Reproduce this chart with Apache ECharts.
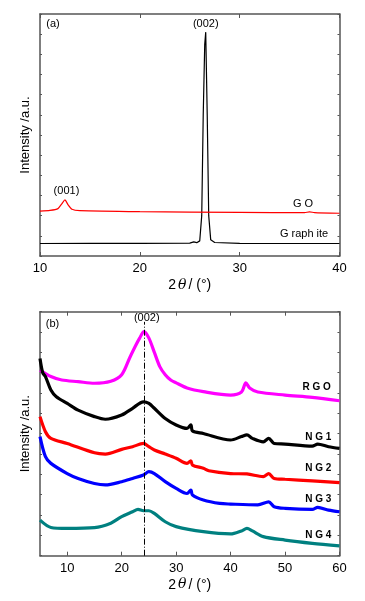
<!DOCTYPE html>
<html><head><meta charset="utf-8">
<script src="https://cdn.jsdelivr.net/npm/echarts@6/dist/echarts.min.js"></script>
<style>html,body{margin:0;padding:0;background:#fff}#c{width:365px;height:601px}</style>
</head><body><div id="c"></div>
<script>
// Panel (a)
const graphiteX = [10, 15, 20, 25, 25.4, 25.7, 26.0, 26.2, 26.35, 26.5, 26.6, 26.75, 26.9, 27.1, 27.5, 30, 35, 40];
const graphiteY = [6.2, 6.3, 6.3, 6.4, 7.0, 6.6, 7.5, 20, 70, 105, 111, 70, 20, 8, 6.7, 6.3, 6.2, 6.2];
const goX = [10, 11, 11.8, 12.2, 12.5, 12.8, 13.2, 14, 20, 30, 36.5, 37, 37.5, 40];
const goY = [22.3, 22.6, 23.5, 26, 27.8, 25.5, 23.2, 22.5, 22.0, 21.6, 21.5, 21.9, 21.5, 21.2];
// Panel (b)
const rgoX = [5, 7, 9, 12, 15, 18, 20, 21.5, 22.5, 23.3, 24.1, 25, 26, 27, 28, 29, 30, 32, 35, 40, 42, 42.8, 43.5, 45, 50, 55, 60];
const rgoY = [91.3, 88.1, 86.4, 85.6, 84.8, 85.8, 89, 97.5, 103, 107, 110.2, 107, 100, 93, 89, 86.4, 85, 82.5, 80.7, 79, 80.5, 85, 82.5, 80.5, 79, 77.9, 76.2];
const ng1X = [5, 5.5, 6, 7, 8, 10, 12, 15, 17, 20, 22, 24, 25, 26, 28, 30, 32, 32.7, 33, 35, 40, 42, 43, 44, 46, 47, 48, 50, 55, 56, 58, 60];
const ng1Y = [97, 90, 88.1, 81.5, 78.2, 74.9, 71.6, 68.4, 67.1, 69.2, 72.5, 75.7, 74.9, 72.5, 67.5, 64.3, 62.6, 64.3, 61.4, 60.1, 56.9, 58.6, 59.4, 57.7, 56, 57.7, 55.2, 54.9, 53.9, 54.9, 53.6, 52.8];
const ng2X = [5, 6, 7, 10, 15, 17, 20, 22, 24, 25, 26, 28, 30, 32, 32.7, 33, 35, 36, 40, 43, 46, 47, 48, 50, 55, 60];
const ng2Y = [68.4, 61, 57.7, 55.2, 50.6, 50, 52.3, 53.6, 55.2, 53.6, 52, 50, 47.9, 45.4, 46.7, 44.6, 43, 41.8, 40.4, 40.2, 38.9, 40.4, 38, 37.6, 36.8, 35.9];
const ng3X = [5, 6, 7, 10, 12, 15, 17, 20, 22, 24, 25, 26, 28, 30, 32, 32.7, 33, 35, 38, 40, 45, 47, 48, 50, 55, 56, 58, 60];
const ng3Y = [58.6, 48.7, 45.4, 40.4, 38, 35.5, 34.8, 36.4, 38, 39.7, 41.3, 40.4, 36.4, 33.1, 30.6, 32.3, 29.9, 27.4, 25.7, 25.4, 25, 26.5, 24.1, 23.3, 22.8, 23.8, 22.4, 21.6];
const ng4X = [5, 7, 10, 15, 18, 20, 22, 23, 24, 25, 26, 28, 30, 35, 40, 42, 43, 44, 46, 50, 55, 60];
const ng4Y = [17.5, 13.9, 13.4, 13.8, 16, 19.2, 21.6, 22.8, 22.1, 22.1, 20.8, 16.7, 14.3, 11.8, 10.7, 12.2, 13.4, 12.2, 9.4, 7.7, 6.1, 4.8];
const xTicksA = [10, 20, 30, 40];
const xTicksB = [10, 20, 30, 40, 50, 60];
const peakLineX = 24.1;

const zip = (xs, ys) => xs.map((x, i) => [x, ys[i]]);
const FONT = 'Liberation Sans, Arial, sans-serif';
const axisCol = '#555';
function xAx(grid, min, max, ticks, pos, show) {
  return { type: 'value', gridIndex: grid, min: min, max: max, position: pos,
    axisLine: { show: true, onZero: false, lineStyle: { color: axisCol, width: 1.5 } },
    axisTick: { show: true, inside: true, length: 4, customValues: ticks, lineStyle: { color: axisCol } },
    splitLine: { show: false },
    axisLabel: { show: show, customValues: ticks, color: '#000', fontSize: 13, fontFamily: FONT, margin: 6 },
    name: show ? '{a|2}{b|θ}{a|/ (°)}' : '', nameLocation: 'middle', nameGap: 22,
    nameTextStyle: { rich: { a: { fontSize: 14, fontFamily: FONT, color: '#000' }, b: { fontSize: 14, fontStyle: 'italic', fontFamily: 'DejaVu Serif, serif', color: '#000', padding: [0, 2, 0, 2] } } }
  };
}
function yAx(grid, pos, show) {
  return { type: 'value', gridIndex: grid, min: 0, max: 120, interval: 10, position: pos,
    axisLine: { show: true, onZero: false, lineStyle: { color: axisCol, width: 1.5 } },
    axisTick: { show: true, inside: true, length: 2, lineStyle: { color: axisCol } },
    splitLine: { show: false }, axisLabel: { show: false },
    name: show ? 'Intensity /a.u.' : '', nameLocation: 'middle', nameGap: 8,
    nameTextStyle: { fontSize: 13, fontFamily: FONT, color: '#000' }
  };
}
function txt(x, y, s, opts) {
  return Object.assign({ coord: [x, y], value: s, symbol: 'circle', symbolSize: 0,
    label: { show: true, formatter: s, position: 'inside', color: '#000', fontSize: 11, fontFamily: FONT } }, opts || {});
}
function lineS(x, y, data, color, w, smooth, marks) {
  const s = { type: 'line', xAxisIndex: x, yAxisIndex: y, data: data, showSymbol: false, symbol: 'none', smooth: smooth,
    lineStyle: { color: color, width: w }, itemStyle: { color: color }, animation: false, z: 3 };
  if (marks) s.markPoint = { symbol: 'circle', symbolSize: 0, animation: false, data: marks };
  return s;
}
const boldLab = (s) => ({ label: { show: true, formatter: s, position: 'inside', color: '#000', fontSize: 10, fontWeight: 'bold', fontFamily: FONT } });

const option = {
  backgroundColor: '#fff',
  animation: false,
  grid: [
    { left: 40, right: 25.5, top: 14, height: 242 },
    { left: 40, right: 25.5, top: 311.7, height: 244 }
  ],
  xAxis: [xAx(0, 10, 40, xTicksA, 'bottom', true), xAx(0, 10, 40, xTicksA, 'top', false), xAx(1, 5, 60, xTicksB, 'bottom', true), xAx(1, 5, 60, xTicksB, 'top', false)],
  yAxis: [yAx(0, 'left', true), yAx(0, 'right', false), yAx(1, 'left', true), yAx(1, 'right', false)],
  series: [
    lineS(0, 0, zip(graphiteX, graphiteY), '#000', 1.2, false, [
      txt(26.6, 114.9, '(002)'), txt(36.45, 11.1, 'G raph ite'), txt(11.3, 114.9, '(a)')
    ]),
    lineS(0, 0, zip(goX, goY), '#ff0000', 1.2, 0.2, [
      txt(12.65, 32.1, '(001)'), txt(36.35, 25.6, 'G O')
    ]),
    lineS(2, 2, zip(rgoX, rgoY), '#ff00ff', 3.2, 0.3, [
      txt(55.8, 82.8, 'R G O', boldLab('R G O')), txt(7.3, 114, '(b)'), txt(24.6, 116.9, '(002)')
    ]),
    lineS(2, 2, zip(ng1X, ng1Y), '#000000', 3.2, 0.3, [txt(56.1, 58.5, 'N G 1', boldLab('N G 1'))]),
    lineS(2, 2, zip(ng2X, ng2Y), '#ff0000', 3.2, 0.3, [txt(56.1, 43, 'N G 2', boldLab('N G 2'))]),
    lineS(2, 2, zip(ng3X, ng3Y), '#0000ff', 3.2, 0.3, [txt(56.1, 27.9, 'N G 3', boldLab('N G 3'))]),
    Object.assign(lineS(2, 2, zip(ng4X, ng4Y), '#008080', 3.2, 0.3, [txt(56.1, 10.2, 'N G 4', boldLab('N G 4'))]), {
      markLine: { symbol: 'none', silent: true, animation: false, label: { show: false },
        lineStyle: { color: '#000', width: 1, type: [6, 2, 1, 2] },
        data: [[{ coord: [peakLineX, 0] }, { coord: [peakLineX, 115] }]] }
    })
  ]
};
const chart = echarts.init(document.getElementById('c'), null, { renderer: 'canvas' });
chart.setOption(option);
</script></body></html>
